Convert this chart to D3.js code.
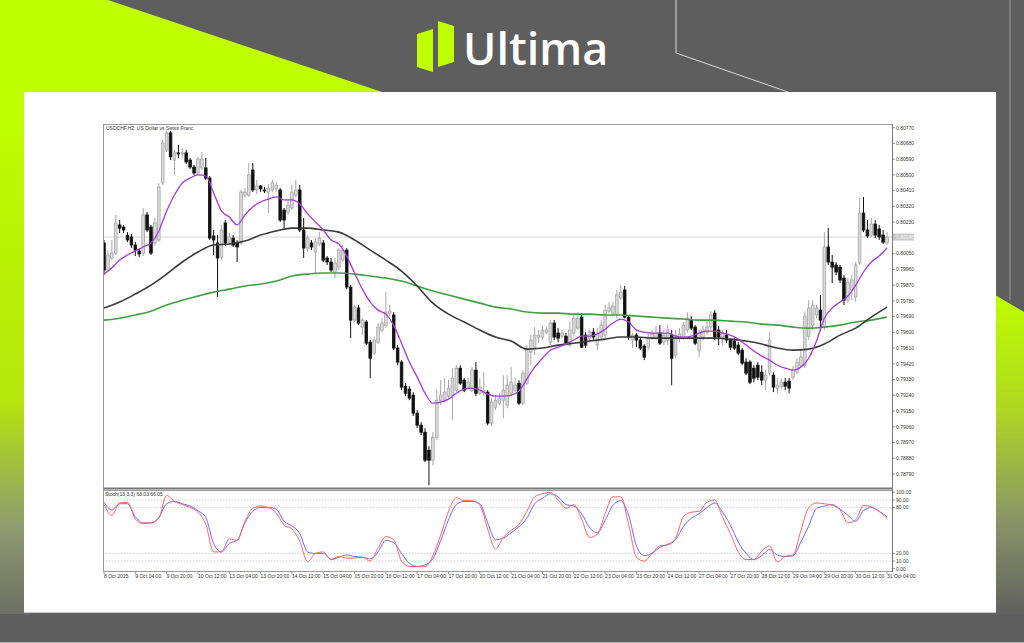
<!DOCTYPE html>
<html><head><meta charset="utf-8">
<script src="https://cdnjs.cloudflare.com/ajax/libs/d3/7.8.5/d3.min.js"></script>
<style>html,body{margin:0;padding:0;background:#5e5e5e;overflow:hidden}</style>
</head><body><svg id="c" width="1024" height="643"></svg>
<script>
// ---- DATA (prices in MT4 points, 1e-5) ----
const opens = [80111,79956,80025,80053,80214,80202,80156,80145,80099,80065,
80053,80271,80202,80111,80128,80454,80643,80740,80585,80626,
80620,80626,80585,80545,80511,80540,80540,80482,80151,80111,
80030,80225,80116,80139,80111,80111,80385,80385,80528,80414,
80437,80414,80402,80414,80420,80414,80299,80288,80311,80385,
80414,80185,80082,80111,80059,80105,80111,80025,80002,79945,
79973,80013,80070,79859,79670,79739,79630,79659,79544,79481,
79544,79613,79641,79710,79699,79510,79430,79292,79275,79241,
79138,79069,79029,78926,78869,79000,79212,79212,79235,79241,
79269,79395,79327,79281,79269,79384,79252,79258,79258,79081,
79172,79195,79212,79184,79252,79269,79309,79195,79309,79487,
79515,79573,79573,79601,79544,79653,79596,79578,79578,79527,
79596,79624,79687,79584,79567,79601,79527,79573,79584,79721,
79710,79704,79796,79842,79687,79556,79584,79556,79521,79515,
79567,79573,79596,79544,79556,79584,79470,79567,79567,79613,
79670,79630,79498,79573,79601,79630,79710,79613,79573,79584,
79556,79550,79527,79498,79430,79430,79395,79412,79372,79327,
79367,79355,79281,79292,79315,79321,79344,79372,79412,79412,
79578,79641,79699,79727,79630,80088,80002,79985,79973,79910,
79784,79842,79802,79996,80282,80185,80156,80219,80191,80156,
80111].map(v => v / 1e5);
const highs = [80128,80070,80128,80271,80242,80214,80173,80162,80116,80082,
80311,80288,80214,80254,80454,80700,80751,80751,80643,80671,
80654,80643,80597,80557,80603,80631,80597,80494,80185,80156,
80214,80242,80168,80156,80128,80414,80425,80568,80568,80471,
80442,80431,80448,80471,80460,80425,80311,80357,80442,80471,
80442,80254,80156,80128,80139,80173,80128,80036,80025,80025,
80082,80099,80082,79870,79756,79756,79681,79670,79556,79573,
79653,79681,79830,79756,79716,79527,79441,79309,79292,79258,
79155,79086,79052,78949,79029,79269,79327,79338,79327,79395,
79412,79412,79338,79338,79401,79430,79338,79372,79269,79224,
79241,79252,79355,79355,79401,79338,79327,79384,79527,79584,
79630,79613,79641,79636,79670,79670,79624,79613,79596,79659,
79699,79716,79710,79601,79613,79624,79624,79670,79756,79773,
79773,79842,79870,79865,79699,79596,79596,79573,79533,79596,
79613,79636,79641,79613,79641,79613,79613,79624,79659,79716,
79693,79641,79613,79641,79670,79721,79727,79636,79613,79613,
79567,79567,79544,79510,79452,79441,79412,79430,79412,79384,
79601,79372,79338,79338,79338,79338,79407,79452,79498,79716,
79784,79784,79756,79813,80173,80196,80042,80002,79985,79927,
79910,79927,80002,80368,80374,80242,80254,80242,80214,80185,
80173].map(v => v / 1e5);
const lows = [79927,79945,80013,80042,80168,80168,80116,80082,80036,80030,
80036,80173,80042,80093,80116,80442,80631,80585,80500,80597,
80597,80563,80534,80500,80500,80528,80471,80128,80042,79802,
80013,80093,80099,80088,80002,80099,80374,80374,80402,80391,
80402,80397,80282,80402,80402,80231,80196,80271,80299,80374,
80173,80025,80059,80070,79939,80093,80002,79985,79945,79910,
79956,80002,79847,79567,79659,79641,79584,79527,79338,79470,
79533,79601,79624,79693,79498,79412,79269,79235,79212,79121,
79052,79012,78857,78726,78840,78983,79184,79201,79224,79098,
79258,79298,79258,79269,79258,79235,79241,79235,79069,79063,
79155,79184,79109,79166,79241,79258,79184,79184,79298,79412,
79470,79538,79556,79590,79527,79556,79544,79567,79527,79515,
79578,79613,79510,79510,79544,79556,79498,79556,79567,79710,
79693,79681,79784,79681,79556,79510,79515,79498,79441,79498,
79556,79556,79527,79527,79527,79298,79452,79544,79556,79596,
79613,79527,79458,79556,79584,79613,79556,79527,79527,79538,
79498,79498,79470,79412,79355,79304,79315,79327,79298,79269,
79349,79258,79252,79275,79269,79252,79327,79361,79401,79395,
79556,79613,79681,79613,79613,79985,79882,79927,79882,79756,
79767,79784,79773,79985,80173,80139,80145,80139,80128,80105,
80099].map(v => v / 1e5);
const closes = [79956,80042,80053,80225,80196,80185,80128,80099,80070,80048,
80271,80185,80053,80225,80431,80683,80740,80603,80626,80620,
80626,80574,80545,80511,80591,80591,80482,80139,80128,80025,
80185,80111,80145,80099,80088,80402,80402,80500,80414,80437,
80420,80408,80425,80454,80442,80242,80242,80328,80402,80414,
80185,80082,80139,80088,80116,80139,80013,80002,79956,79996,
80070,80070,79859,79670,79744,79653,79670,79538,79452,79556,
79630,79653,79716,79721,79510,79430,79287,79252,79224,79138,
79069,79029,78869,78869,79000,79212,79241,79258,79281,79338,
79395,79309,79269,79315,79384,79252,79287,79269,79081,79201,
79212,79224,79269,79298,79315,79298,79195,79367,79498,79556,
79584,79584,79613,79613,79653,79573,79567,79596,79538,79613,
79681,79681,79515,79527,79601,79573,79596,79641,79727,79739,
79750,79813,79830,79687,79573,79584,79556,79510,79458,79573,
79590,79596,79538,79584,79613,79452,79584,79590,79641,79681,
79624,79538,79596,79613,79630,79699,79573,79573,79596,79556,
79515,79510,79481,79424,79367,79315,79338,79344,79327,79355,
79556,79287,79298,79315,79292,79281,79384,79430,79458,79693,
79739,79756,79739,79670,80088,80002,79973,79945,79899,79784,
79887,79899,79985,80282,80185,80151,80219,80156,80145,80116,
80145].map(v => v / 1e5);

// fast moving average (purple), one value every 2 bars
const fastStep = 2;
const maFast = [79933,79968,80013,80042,80065,80088,80111,80179,80294,80385,
80454,80482,80500,80494,80397,80294,80259,80214,80271,80317,
80345,80362,80374,80357,80357,80334,80277,80231,80185,80128,
80105,80036,79939,79847,79773,79727,79704,79641,79538,79430,
79344,79252,79195,79201,79218,79252,79275,79281,79269,79247,
79235,79235,79241,79264,79332,79401,79452,79498,79515,79533,
79556,79578,79578,79590,79618,79653,79676,79659,79613,79601,
79596,79596,79596,79578,79573,79578,79596,79607,79607,79596,
79584,79561,79527,79493,79464,79441,79412,79395,79384,79401,
79452,79550,79681,79739,79773,79807,79870,79945,80002,80036,
80082].map(v => v / 1e5);
// slower moving averages, one value every 4 bars
const maStep = 4;
const maMid = [79739,79773,79819,79870,79933,80002,80059,80099,80105,80122,
80156,80179,80196,80196,80185,80173,80128,80070,80013,79950,
79865,79767,79704,79659,79613,79573,79550,79504,79510,79527,
79538,79550,79561,79573,79573,79567,79567,79567,79567,79567,
79561,79550,79533,79510,79498,79504,79533,79584,79624,79687,
79744].map(v => v / 1e5);
const maSlow = [79670,79681,79699,79721,79756,79784,79807,79830,79847,79865,
79876,79893,79922,79933,79939,79939,79933,79922,79910,79893,
79865,79836,79813,79790,79767,79744,79733,79716,79710,79710,
79704,79704,79699,79699,79693,79687,79681,79676,79670,79670,
79664,79659,79647,79641,79630,79624,79630,79641,79659,79670,
79687].map(v => v / 1e5);

// stochastic, one value every 2 bars
const stStep = 2;
const stochK = [84,70,86,87,65,59,60,66,96,88,84,80,74,58,22,22,39,37,62,79,
82,80,73,57,52,36,9,20,22,12,16,14,14,15,10,27,42,38,10,3,
2.6,2.6,17,44,75,93,89,89,83,52,26,41,50,58,75,94,98,100,90,79,
84,65,41,45,72,94,94,58,15,10,20,30,31,40,68,74,75,87,90,67,
46,22,12,12,23,30,9,16,18,50,80,86,85,83,77,60,64,83,81,75,66];
const stochD = [87,77,85,85,68,60,60,67,85,88,85,82,76,67,33,22,33,37,60,75,
80,80,78,62,56,46,22,20,20,12,15,18,16,15,13,22,37,34,20,7,
3,5,13,37,64,84,88,88,85,60,38,40,47,55,66,85,92,98,94,84,
82,72,54,47,63,83,89,70,30,17,20,28,32,38,55,66,72,80,86,74,
57,35,20,12,17,25,18,16,17,35,56,79,82,84,78,70,62,76,80,75,68];

const priceTicks = [0.80770,0.80680,0.80590,0.80500,0.80410,0.80320,0.80230,0.80050,0.79960,0.79870,0.79780,0.79690,0.79600,0.79510,0.79420,0.79330,0.79240,0.79150,0.79060,0.78970,0.78880,0.78790];
const stochTicks = [100,90,80,20,10,0];
const stochLevels = [90,80,20,10];
const timeLabels = ["8 Oct 2025","9 Oct 04:00","9 Oct 20:00","10 Oct 12:00","13 Oct 04:00","13 Oct 20:00","14 Oct 12:00","15 Oct 04:00","15 Oct 20:00","16 Oct 12:00","17 Oct 04:00","17 Oct 20:00","20 Oct 12:00","21 Oct 04:00","21 Oct 20:00","22 Oct 12:00","23 Oct 04:00","23 Oct 20:00","24 Oct 12:00","27 Oct 04:00","27 Oct 20:00","28 Oct 12:00","29 Oct 04:00","29 Oct 20:00","30 Oct 12:00","31 Oct 04:00"];
const labelEvery = 8;
const chartTitle = "USDCHF,H2:  US Dollar vs Swiss Franc";
const stochTitle = "Stoch(13,3,3) 63.03 66.05";

// ---- DRAW ----
const svg = d3.select("#c");
const W = 1024, H = 643;

const defs = svg.append("defs");
const gl = defs.append("linearGradient").attr("id","leftg").attr("x1",0).attr("x2",0).attr("y1",0).attr("y2",1);
gl.append("stop").attr("offset","0%").attr("stop-color","#bfff00");
gl.append("stop").attr("offset","55%").attr("stop-color","#b5e60a");
gl.append("stop").attr("offset","78%").attr("stop-color","#8f9a70");
gl.append("stop").attr("offset","100%").attr("stop-color","#5e5e5e");
const gr = defs.append("linearGradient").attr("id","rightg").attr("x1",0).attr("x2",0).attr("y1",0).attr("y2",1);
gr.append("stop").attr("offset","0%").attr("stop-color","#bfff00");
gr.append("stop").attr("offset","35%").attr("stop-color","#b0d820");
gr.append("stop").attr("offset","70%").attr("stop-color","#8a9468");
gr.append("stop").attr("offset","100%").attr("stop-color","#5e5e5e");

svg.append("rect").attr("width",W).attr("height",H).attr("fill","#5e5e5e");
svg.append("polygon").attr("points","0,0 108,0 382,92 0,92").attr("fill","#bfff00");
svg.append("rect").attr("x",0).attr("y",91).attr("width",30).attr("height",560).attr("fill","url(#leftg)");
svg.append("polygon").attr("points","990,292 1024,312 1024,620 990,620").attr("fill","url(#rightg)");
svg.append("path").attr("d","M676,0 L676,53 L788,92").attr("fill","none").attr("stroke","#d8d8d8").attr("stroke-width",1);
svg.append("line").attr("x1",1010).attr("x2",1010).attr("y1",0).attr("y2",300).attr("stroke","#9a9a9a").attr("stroke-width",1);
svg.append("rect").attr("x",0).attr("y",614).attr("width",W).attr("height",29).attr("fill","#5e5e5e");
svg.append("line").attr("x1",0).attr("x2",W).attr("y1",642.5).attr("y2",642.5).attr("stroke","#b0b0b0");

// logo
svg.append("polygon").attr("points","417,34 433,29 433,72 417,67").attr("fill","#bfff00");
svg.append("polygon").attr("points","438,21 454,26 454,62 438,67").attr("fill","#bfff00");
svg.append("text").attr("x",463).attr("y",65).text("Ultima")
  .attr("font-family","'Open Sans', sans-serif").attr("font-weight",600).attr("font-size",45).attr("fill","#ffffff");

// white panel
svg.append("rect").attr("x",24).attr("y",92).attr("width",972).attr("height",520).attr("fill","#ffffff");
svg.append("line").attr("x1",24).attr("x2",996).attr("y1",612.5).attr("y2",612.5).attr("stroke","#c8c8c8");

// chart geometry
const L = 103, R = 892, T = 124, MB = 488, ST = 490, SB = 571;
const x = d3.scaleLinear().domain([0, opens.length - 1]).range([104, 887]);
const y = d3.scaleLinear().domain([0.78790, 0.80770]).range([474.0, 127.7]);
const ys = d3.scaleLinear().domain([0, 100]).range([568.7, 492.3]);

defs.append("clipPath").attr("id","mainclip").append("rect").attr("x",L).attr("y",T).attr("width",R-L).attr("height",MB-T);
defs.append("clipPath").attr("id","stclip").append("rect").attr("x",L).attr("y",ST).attr("width",R-L).attr("height",SB-ST);

const font = "'Liberation Sans', Arial, sans-serif";

const last = closes[closes.length-1];
svg.append("line").attr("x1",L).attr("x2",R).attr("y1",y(last)).attr("y2",y(last)).attr("stroke","#d6d6d6").attr("stroke-width",1);

const main = svg.append("g").attr("clip-path","url(#mainclip)");
const bars = opens.map((o,i)=>({i,o,h:highs[i],l:lows[i],c:closes[i]}));
const bw = 2.6;
main.selectAll("line.wick").data(bars).enter().append("line")
  .attr("x1",d=>x(d.i)).attr("x2",d=>x(d.i)).attr("y1",d=>y(d.h)).attr("y2",d=>y(d.l))
  .attr("stroke",d=>d.c>=d.o?"#a6a6a6":"#111").attr("stroke-width",1);
main.selectAll("rect.body").data(bars).enter().append("rect")
  .attr("x",d=>x(d.i)-bw/2).attr("width",bw)
  .attr("y",d=>y(Math.max(d.o,d.c))).attr("height",d=>Math.max(1,Math.abs(y(d.o)-y(d.c))))
  .attr("fill",d=>d.c>=d.o?"#dcdcdc":"#111").attr("stroke",d=>d.c>=d.o?"#a6a6a6":"#111").attr("stroke-width",0.8);

function maLine(arr, step, color, w){
  const ln = d3.line().x((v,k)=>x(k*step)).y(v=>y(v)).curve(d3.curveMonotoneX);
  main.append("path").attr("d",ln(arr)).attr("fill","none").attr("stroke",color).attr("stroke-width",w);
}
maLine(maSlow, maStep, "#3fa03f", 1.6);
maLine(maMid, maStep, "#3a3a3a", 1.6);
maLine(maFast, fastStep, "#a53bdb", 1.3);

// stoch
const st = svg.append("g").attr("clip-path","url(#stclip)");
stochLevels.forEach(v=>{
  st.append("line").attr("x1",L).attr("x2",R).attr("y1",ys(v)).attr("y2",ys(v))
    .attr("stroke","#c4c4c4").attr("stroke-width",0.8).attr("stroke-dasharray","1.5,1.5");
});
const sl = d3.line().x((v,k)=>x(k*stStep)).y(v=>ys(v)).curve(d3.curveMonotoneX);
st.append("path").attr("d",sl(stochD)).attr("fill","none").attr("stroke","#6a6aff").attr("stroke-width",1);
st.append("path").attr("d",sl(stochK)).attr("fill","none").attr("stroke","#ff6464").attr("stroke-width",1);

// frames
svg.append("rect").attr("x",L+0.5).attr("y",T+0.5).attr("width",R-L).attr("height",MB-T).attr("fill","none").attr("stroke","#9a9a9a");
svg.append("line").attr("x1",L).attr("x2",R+1).attr("y1",MB+0.5).attr("y2",MB+0.5).attr("stroke","#777").attr("stroke-width",2);
svg.append("rect").attr("x",L+0.5).attr("y",ST+0.5).attr("width",R-L).attr("height",SB-ST).attr("fill","none").attr("stroke","#9a9a9a");
svg.append("line").attr("x1",R+0.5).attr("x2",R+0.5).attr("y1",T).attr("y2",SB+1).attr("stroke","#777");

// price axis
const pa = svg.append("g");
priceTicks.forEach(p=>{
  pa.append("line").attr("x1",R).attr("x2",R+3).attr("y1",y(p)).attr("y2",y(p)).attr("stroke","#555").attr("stroke-width",0.6);
  pa.append("text").attr("x",R+4).attr("y",y(p)+1.8).text(p.toFixed(5))
    .attr("font-family",font).attr("font-size",5).attr("fill","#333");
});
pa.append("rect").attr("x",R+1).attr("y",y(last)-3.5).attr("width",21).attr("height",7).attr("fill","#c8c8c8");
pa.append("text").attr("x",R+4).attr("y",y(last)+1.8).text(last.toFixed(5))
  .attr("font-family",font).attr("font-size",5).attr("fill","#f4f4f4");

// stoch axis
stochTicks.forEach(v=>{
  pa.append("line").attr("x1",R).attr("x2",R+3).attr("y1",ys(v)).attr("y2",ys(v)).attr("stroke","#555").attr("stroke-width",0.6);
  pa.append("text").attr("x",R+4).attr("y",ys(v)+1.8).text(v.toFixed(2))
    .attr("font-family",font).attr("font-size",5).attr("fill","#333");
});

// time axis
timeLabels.forEach((t,k)=>{
  const xx = x(k*labelEvery);
  pa.append("line").attr("x1",xx).attr("x2",xx).attr("y1",SB+1).attr("y2",SB+3).attr("stroke","#555").attr("stroke-width",0.6);
  pa.append("text").attr("x",xx).attr("y",SB+7).text(t)
    .attr("font-family",font).attr("font-size",5).attr("fill","#333");
});

svg.append("text").attr("x",L+3).attr("y",T+6).text(chartTitle).attr("font-family",font).attr("font-size",5).attr("fill","#333");
svg.append("text").attr("x",L+2).attr("y",ST+6).text(stochTitle).attr("font-family",font).attr("font-size",5).attr("fill","#333");
</script></body></html>
